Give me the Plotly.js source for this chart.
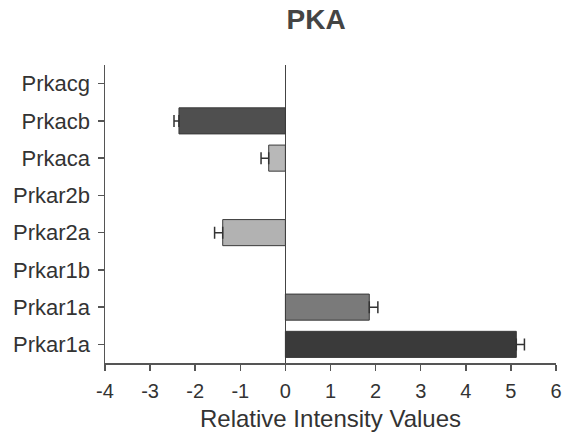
<!DOCTYPE html>
<html>
<head>
<meta charset="utf-8">
<script src="https://cdn.plot.ly/plotly-3.0.1.min.js"></script>
<style>html,body{margin:0;padding:0;background:#fff;}#chart{width:565px;height:435px;}</style>
</head>
<body>
<div id="chart"></div>
<script>
// Data (top to bottom)
const labels = ["Prkacg", "Prkacb", "Prkaca", "Prkar2b", "Prkar2a", "Prkar1b", "Prkar1a", "Prkar1a"];
const values = [null, -2.36, -0.37, null, -1.39, null, 1.86, 5.12];
const errPlus = [0, 0, 0, 0, 0, 0, 0.19, 0.18];
const errMinus = [0, 0.11, 0.17, 0, 0.18, 0, 0, 0];
const barColors = ["#888888", "#4f4f4f", "#b8b8b8", "#888888", "#b2b2b2", "#888888", "#7a7a7a", "#3a3a3a"];
const xTicks = [-4, -3, -2, -1, 0, 1, 2, 3, 4, 5, 6];

const positions = labels.map((_, i) => i);

const trace = {
  type: "bar",
  orientation: "h",
  x: values,
  y: positions,
  width: 0.7,
  marker: {color: barColors, line: {color: "#3a3a3a", width: 1}},
  error_x: {
    type: "data", symmetric: false,
    array: errPlus, arrayminus: errMinus,
    color: "#333333", thickness: 1.5, width: 6, visible: true
  },
  hoverinfo: "x+y"
};

const layout = {
  width: 565, height: 435,
  margin: {l: 105, r: 9, t: 65, b: 72},
  paper_bgcolor: "#ffffff", plot_bgcolor: "#ffffff",
  showlegend: false,
  font: {family: "Liberation Sans, Arial, sans-serif", color: "#333333"},
  title: {
    text: "<b>PKA</b>",
    font: {size: 28, color: "#444444", family: "Liberation Sans, Arial, sans-serif"},
    x: 0.468, xref: "paper", xanchor: "center",
    y: 0.956, yref: "container", yanchor: "middle"
  },
  xaxis: {
    range: [-4, 6],
    tickvals: xTicks,
    ticktext: xTicks.map(String),
    ticks: "outside", ticklen: 6, tickwidth: 1.5, tickcolor: "#555555",
    showline: true, linecolor: "#555555", linewidth: 1.5,
    showgrid: false,
    zeroline: true, zerolinecolor: "#444444", zerolinewidth: 1.5,
    tickfont: {size: 20, color: "#333333"},
    ticklabelstandoff: 3,
    title: {text: "Relative Intensity Values", font: {size: 24, color: "#333333"}, standoff: 9},
    fixedrange: true
  },
  yaxis: {
    range: [7.5, -0.5],
    tickvals: positions,
    ticktext: labels,
    ticks: "outside", ticklen: 6, tickwidth: 1.5, tickcolor: "#555555",
    showline: true, linecolor: "#555555", linewidth: 1.5,
    showgrid: false, zeroline: false,
    tickfont: {size: 22, color: "#333333"},
    ticklabelstandoff: 3,
    fixedrange: true
  },
  bargap: 0.3
};

Plotly.newPlot("chart", [trace], layout, {displayModeBar: false, staticPlot: true});
</script>
</body>
</html>
